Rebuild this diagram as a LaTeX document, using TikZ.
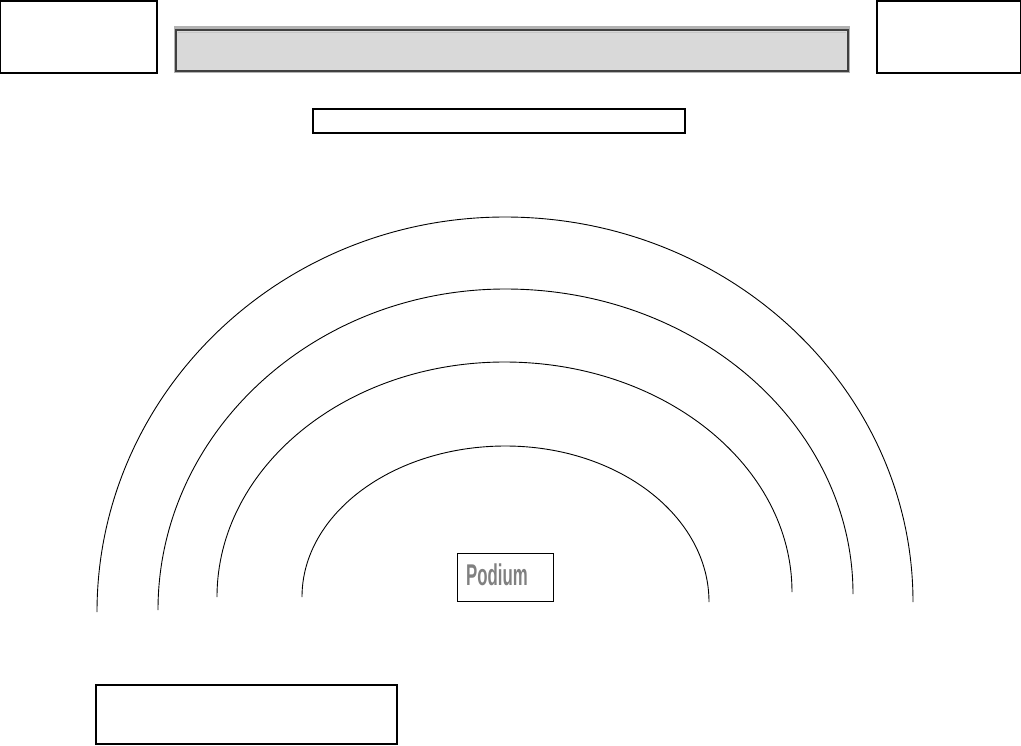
\documentclass[tikz,border=0pt]{standalone}
\usepackage{fontspec}
\setmainfont{Liberation Sans}
\begin{document}
\begin{tikzpicture}[x=1pt,y=-1pt,
  box/.style={draw=black,line width=1.1pt},
  arcline/.style={draw=black,line width=0.9pt}]
\useasboundingbox (0,0) rectangle (1021,745);
% top corner boxes
\draw[box] (0.6,1) rectangle (157,73);
\draw[box] (877,1) rectangle (1020.4,73);
% banner
\fill[gray!60] (174,26) rectangle (850,73);
\draw[line width=2pt,draw=black!75,fill=black!15] (176,29.5) rectangle (848,70.5);
\draw[line width=0.8pt,draw=gray!45] (178,32) -- (846,32);
% subtitle box
\draw[box] (313,109) rectangle (685,133);
% bottom box
\draw[box] (96,685) rectangle (397,744);
% podium box
\node[box,minimum width=96pt,minimum height=48pt,anchor=north west,inner sep=0pt] (podium) at (457,553) {};
\node[text=gray,font=\bfseries\fontsize{30}{30}\selectfont,xscale=0.56,inner sep=0pt] (podtext) at (497,575) {Podium};
% arcs (quarter ellipses joined at the top)
\def\qk{0.552}
\foreach \lx/\ly/\tx/\ty/\rx/\ry in {97/612/505/217/913/602, 158/610/505.5/289/853/594, 217/597/504.5/362/792/592, 302/597/505.5/446/709/602}{
  \pgfmathsetmacro{\ca}{\ly-\qk*(\ly-\ty)}
  \pgfmathsetmacro{\cb}{\tx-\qk*(\tx-\lx)}
  \pgfmathsetmacro{\cc}{\tx+\qk*(\rx-\tx)}
  \pgfmathsetmacro{\cd}{\ry-\qk*(\ry-\ty)}
  \draw[arcline] (\lx,\ly) .. controls (\lx,\ca) and (\cb,\ty) .. (\tx,\ty)
    .. controls (\cc,\ty) and (\rx,\cd) .. (\rx,\ry);
}
\end{tikzpicture}
\end{document}
